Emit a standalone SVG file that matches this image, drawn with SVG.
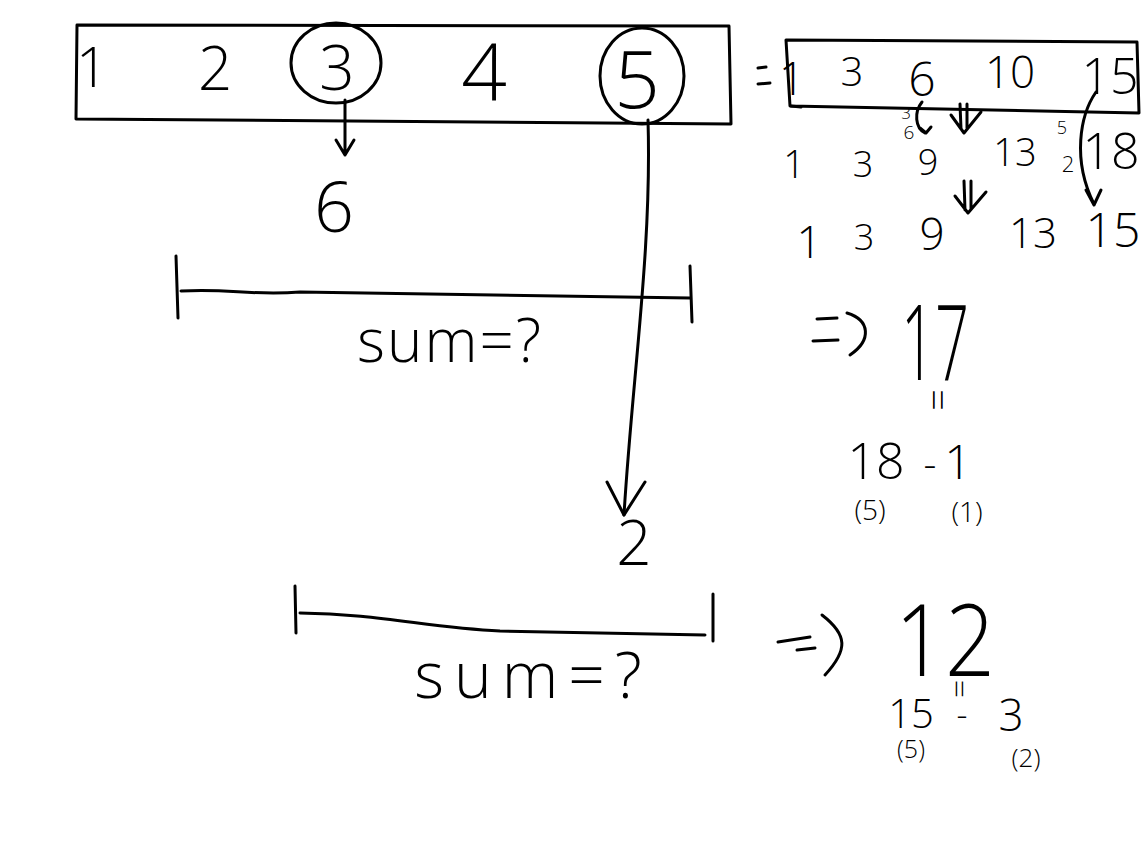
<svg xmlns="http://www.w3.org/2000/svg" width="1143" height="862" viewBox="0 0 1143 862">
<style>
.s{fill:none;stroke:#000;stroke-width:3;stroke-linecap:round;stroke-linejoin:round}
.t{font-family:"Open Sans","Liberation Sans",sans-serif;font-weight:300;fill:#000;text-anchor:middle}
</style>
<rect width="1143" height="862" fill="#fff"/>
<g id="array-box">
<path class="s" d="M77,25 L729,26 L731,124 L76,119 Z"/>
<text class="t" x="92" y="87" font-size="56">1</text>
<text class="t" x="215" y="90" font-size="60">2</text>
<text class="t" x="337" y="90" font-size="62">3</text>
<text class="t" x="484" y="100" font-size="80">4</text>
<text class="t" x="637" y="108" font-size="80">5</text>
<ellipse class="s" cx="336" cy="63" rx="45" ry="40"/>
<ellipse class="s" cx="642" cy="76" rx="42" ry="48"/>
</g>
<g id="connectors">
<path class="s" d="M345,100 L345,155 M336,140 L345,155 L354,140"/>
<path class="s" d="M648,120 C652,250 632,380 624,515"/>
<path class="s" d="M607,482 L624,515 L645,482"/>
</g>
<g id="value-6">
<text class="t" x="334" y="232" font-size="70">6</text>
</g>
<g id="segment-1">
<path class="s" d="M176,256 L178,318"/>
<path class="s" d="M181,291 C230,288 250,296 300,292 C400,294 500,296 690,298"/>
<path class="s" d="M690,266 L692,322"/>
<text class="t" x="450" y="362" font-size="60" letter-spacing="2">sum=?</text>
</g>
<g id="value-2">
<text class="t" x="634" y="565" font-size="62">2</text>
</g>
<g id="segment-2">
<path class="s" d="M295,586 L296,633"/>
<path class="s" d="M300,613 C380,614 430,628 500,631 C580,633 650,634 705,635"/>
<path class="s" d="M713,594 L713,641"/>
<text class="t" x="533" y="698" font-size="64" letter-spacing="10">sum=?</text>
</g>
<g id="prefix-box">
<path class="s" d="M758,68 L766,67 M758,84 L770,83"/>
<path class="s" d="M786,40 L1137,42 L1139,113 L790,106 Z"/>
<path class="s" d="M791,106 L801,107"/>
<text class="t" x="792" y="95" font-size="46">1</text>
<text class="t" x="852" y="86" font-size="40">3</text>
<text class="t" x="922" y="96" font-size="48">6</text>
<text class="t" x="1010" y="88" font-size="44">10</text>
<text class="t" x="1110" y="94" font-size="50">15</text>
</g>
<g id="prefix-step">
<text class="t" x="906" y="119" font-size="17">3</text>
<text class="t" x="909" y="139" font-size="19">6</text>
<path class="s" d="M922,102 C914,112 915,128 925,133 M920,128 L926,133 L931,127"/>
<path class="s" d="M960,104 L961,129 M967,104 L967,128 M951,115 L964,133 L981,112"/>
<text class="t" x="1062" y="134" font-size="18">5</text>
<text class="t" x="1068" y="172" font-size="22">2</text>
<path class="s" d="M1096,92 C1080,115 1072,160 1094,204 M1086,190 L1094,205 L1101,190"/>
<text class="t" x="794" y="178" font-size="38">1</text>
<text class="t" x="863" y="177" font-size="36">3</text>
<text class="t" x="928" y="175" font-size="36">9</text>
<text class="t" x="1015" y="166" font-size="38">13</text>
<text class="t" x="1111" y="169" font-size="50">18</text>
<path class="s" d="M964,181 L965,210 M971,181 L971,209 M955,196 L968,213 L986,192"/>
<text class="t" x="809" y="258" font-size="44">1</text>
<text class="t" x="864" y="250" font-size="36">3</text>
<text class="t" x="932" y="250" font-size="44">9</text>
<text class="t" x="1033" y="248" font-size="42">13</text>
<text class="t" x="1113" y="247" font-size="48">15</text>
</g>
<g id="result-17">
<path class="s" d="M817,319 L837,318 M813,341 L838,340 M847,313 C870,320 872,340 850,355"/>
<text class="t" x="935" y="380" font-size="105" textLength="68" lengthAdjust="spacingAndGlyphs">17</text>
<text class="t" x="935" y="411" font-size="38" transform="rotate(90 935 400)">=</text>
<text class="t" x="876" y="479" font-size="50">18</text>
<text class="t" x="930" y="478" font-size="40">-</text>
<text class="t" x="958" y="479" font-size="48">1</text>
<text class="t" x="870" y="520" font-size="28">(5)</text>
<text class="t" x="967" y="522" font-size="28">(1)</text>
</g>
<g id="result-12">
<path class="s" d="M778,642 L810,637 M797,650 L815,648 M822,615 C848,635 848,650 825,675"/>
<text class="t" x="945" y="676" font-size="100" textLength="100" lengthAdjust="spacingAndGlyphs">12</text>
<text class="t" x="958" y="698" font-size="32" transform="rotate(90 958 689)">=</text>
<text class="t" x="911" y="728" font-size="40">15</text>
<text class="t" x="962" y="727" font-size="34">-</text>
<text class="t" x="1011" y="731" font-size="44">3</text>
<text class="t" x="911" y="758" font-size="25">(5)</text>
<text class="t" x="1026" y="767" font-size="26">(2)</text>
</g>
</svg>
